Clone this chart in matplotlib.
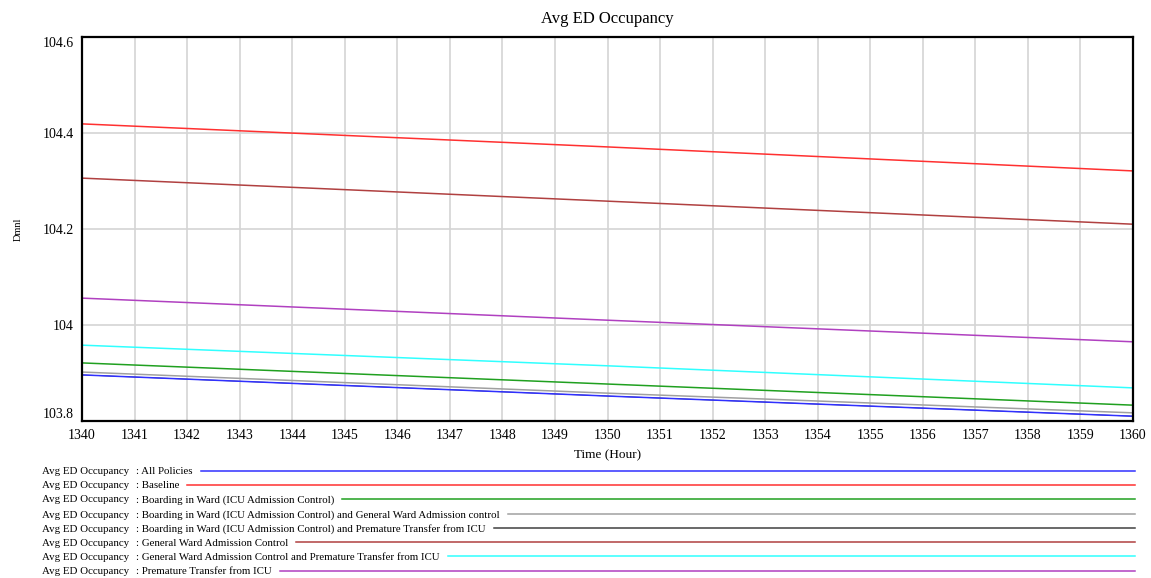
import matplotlib.pyplot as plt
from matplotlib.lines import Line2D

plt.rcParams['font.family'] = ['Liberation Serif', 'DejaVu Serif']

# time points (hours)
hours = [1340, 1350, 1360]

# series values
all_policies = [103.896, 103.852, 103.810]
baseline = [104.419, 104.371, 104.321]
boarding_icu = [103.921, 103.877, 103.833]
boarding_icu_gw = [103.902, 103.858, 103.817]
boarding_icu_pt = [103.896, 103.852, 103.810]
gw_control = [104.306, 104.258, 104.210]
gw_control_pt = [103.958, 103.915, 103.869]
premature_transfer = [104.056, 104.010, 103.965]

labels = ["All Policies",
          "Baseline",
          "Boarding in Ward (ICU Admission Control)",
          "Boarding in Ward (ICU Admission Control) and General Ward Admission control",
          "Boarding in Ward (ICU Admission Control) and Premature Transfer from ICU",
          "General Ward Admission Control",
          "General Ward Admission Control and Premature Transfer from ICU",
          "Premature Transfer from ICU"]
series = [all_policies, baseline, boarding_icu, boarding_icu_gw,
          boarding_icu_pt, gw_control, gw_control_pt, premature_transfer]
colors = ["#3030ff", "#ff3030", "#20a020", "#a0a0a0",
          "#404040", "#b04040", "#30ffff", "#b040c0"]
# drawing order so the hidden black line sits under the blue one
order = [4, 3, 0, 2, 6, 7, 5, 1]

W, H = 1151, 578
fig = plt.figure(figsize=(W / 100, H / 100), dpi=100)
ax = fig.add_axes([82 / W, 1 - 421 / H, (1133 - 82) / W, (421 - 37) / H])

for i in order:
    lw = 0.6 if i == 4 else 1.1
    ax.plot(hours, series[i], color=colors[i], lw=lw)

ax.set_xlim(1340, 1360)
ax.set_ylim(103.8, 104.6)
ax.set_xticks(range(1340, 1361))
ax.set_yticks([103.8, 104.0, 104.2, 104.4, 104.6])
ax.set_yticklabels(["103.8", "104", "104.2", "104.4", "104.6"])
ax.grid(True, color="#d4d4d4", lw=1.2)
ax.set_axisbelow(True)
ax.tick_params(length=0, labelsize=10, pad=6)
ylabs = ax.get_yticklabels()
ylabs[0].set_va("bottom")
ylabs[-1].set_va("top")
for sp in ax.spines.values():
    sp.set_linewidth(1.6)

ax.set_title("Avg ED Occupancy", fontsize=12, pad=10)
ax.set_xlabel("Time (Hour)", fontsize=9.5, labelpad=5)
ax.set_ylabel("Dmnl", fontsize=7.5, labelpad=14)

# vensim style legend under the plot
fig.canvas.draw()
renderer = fig.canvas.get_renderer()
row_y = [471, 485, 499, 514, 528, 542, 556, 571]
for i in range(len(labels)):
    y = 1 - row_y[i] / H
    fig.text(42 / W, y, "Avg ED Occupancy", fontsize=7.8, va="center_baseline")
    t = fig.text(136 / W, y, ": " + labels[i], fontsize=7.8, va="center_baseline")
    bb = t.get_window_extent(renderer)
    x0 = (bb.x1 + 8) / W
    fig.add_artist(Line2D([x0, 1135 / W], [y, y], color=colors[i], lw=1.1,
                          transform=fig.transFigure))

fig.savefig("out.png", dpi=100)
